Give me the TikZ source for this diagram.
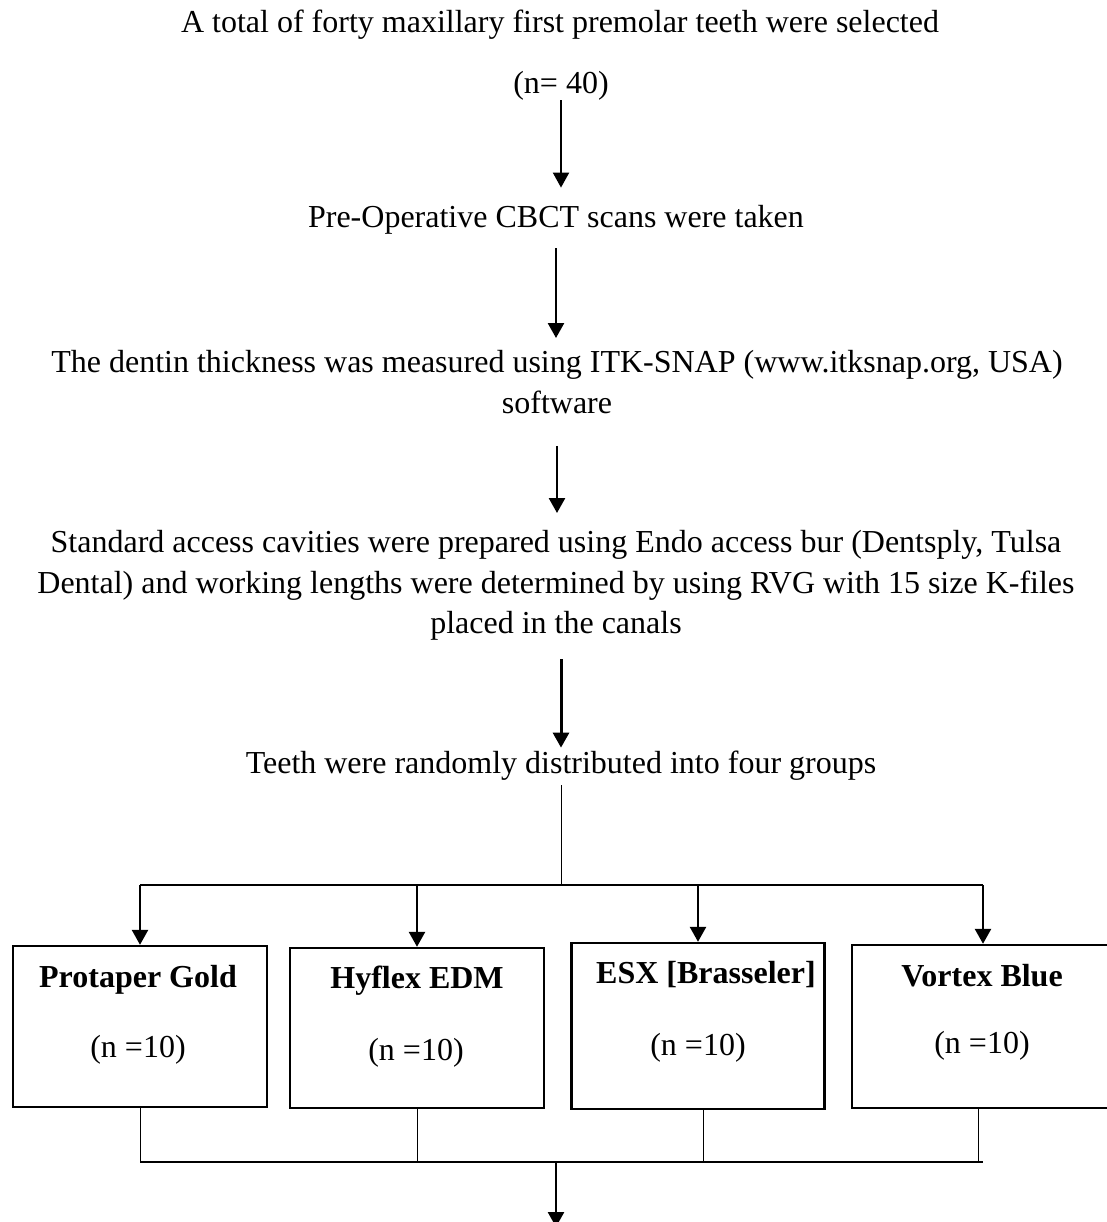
\documentclass[tikz,border=0pt]{standalone}
\usepackage{fontspec}
\setmainfont{Liberation Serif}
\usetikzlibrary{arrows.meta}

\tikzset{
  txt/.style={font=\fontsize{16}{20.3}\selectfont, inner sep=0pt, anchor=base, text height=11pt, text depth=3.5pt},
  para/.style={font=\fontsize{16}{20.3}\selectfont, inner sep=0pt, anchor=north, align=center},
  grpname/.style={txt, font=\fontsize{16}{20.3}\selectfont\bfseries},
  grpbox/.style={draw, line width=1.2pt, inner sep=0pt, minimum width=127pt},
  arr/.style={-{Triangle[length=7.5pt,width=8pt]}, line width=1.3pt},
  link/.style={line width=0.5pt},
  bar/.style={line width=1.2pt}
}

\begin{document}
\begin{tikzpicture}[x=0.5pt,y=-0.5pt]
\useasboundingbox (0,0) rectangle (1107,1222);
% steps
\node[txt] (total) at (560,32) {A total of forty maxillary first premolar teeth were selected};
\node[txt] (nforty) at (561,93) {(n= 40)};
\node[txt] (cbct) at (556,227) {Pre-Operative CBCT scans were taken};
\node[para] (dentin) at (557,350) {The dentin thickness was measured using ITK-SNAP (www.itksnap.org, USA)\\software};
\node[para] (access) at (556,530) {Standard access cavities were prepared using Endo access bur (Dentsply, Tulsa\\Dental) and working lengths were determined by using RVG with 15 size K-files\\placed in the canals};
\node[txt] (groups) at (561,773) {Teeth were randomly distributed into four groups};
\draw[arr,line width=1pt,shorten >=8.5pt] (nforty.south) -- (nforty.south |- cbct.north);
\draw[arr,shorten <=7pt,shorten >=6pt] (cbct.south) -- (cbct.south |- dentin.north);
\draw[arr,shorten <=16pt,shorten >=8.5pt] (dentin.south) -- (dentin.south |- access.north);
\draw[arr,line width=1.5pt,shorten <=9pt,shorten >=1.5pt] (access.south -| groups.north) -- (groups.north);
% groups
\coordinate (split) at (561,885);
\coordinate (merge) at (556,1162);
\coordinate (next) at (556,1227);
\node[grpbox,minimum height=80.5pt] (gold) at (140,1026.5) {};
\node[grpbox,minimum height=80pt] (hyflex) at (417,1028) {};
\node[grpbox,minimum height=83pt,minimum width=126.5pt] (esx) at (698,1026) {};
\node[grpbox,minimum height=81.5pt,minimum width=131pt] (vortex) at (983,1026.5) {};
\node[grpname] (goldname) at (138,987) {Protaper Gold};
\node[grpname] (hyflexname) at (417,988) {Hyflex EDM};
\node[grpname] (esxname) at (706,983) {ESX [Brasseler]};
\node[grpname] (vortexname) at (982,986) {Vortex Blue};
\node[txt] (goldn) at (138,1057) {(n =10)};
\node[txt] (hyflexn) at (416,1060) {(n =10)};
\node[txt] (esxn) at (698,1055) {(n =10)};
\node[txt] (vortexn) at (982,1053) {(n =10)};
\draw[link,shorten <=2.5pt] (groups.south) -- (split);
\draw[bar] (gold.north |- split) -- (vortex.north |- split);
\draw[arr] (gold.north |- split) -- (gold.north);
\draw[arr] (hyflex.north |- split) -- (hyflex.north);
\draw[arr] (esx.north |- split) -- (esx.north);
\draw[arr] (vortex.north |- split) -- (vortex.north);
\draw[link] (gold.south) -- (gold.south |- merge);
\draw[link] (hyflex.south) -- (hyflex.south |- merge);
\draw[link] ([xshift=2.5pt]esx.south) -- ([xshift=2.5pt]esx.south |- merge);
\draw[link] ([xshift=-2.5pt]vortex.south) -- ([xshift=-2.5pt]vortex.south |- merge);
\draw[bar] (gold.south |- merge) -- (vortex.south |- merge);
\draw[arr] (merge) -- (next);
\end{tikzpicture}
\end{document}
